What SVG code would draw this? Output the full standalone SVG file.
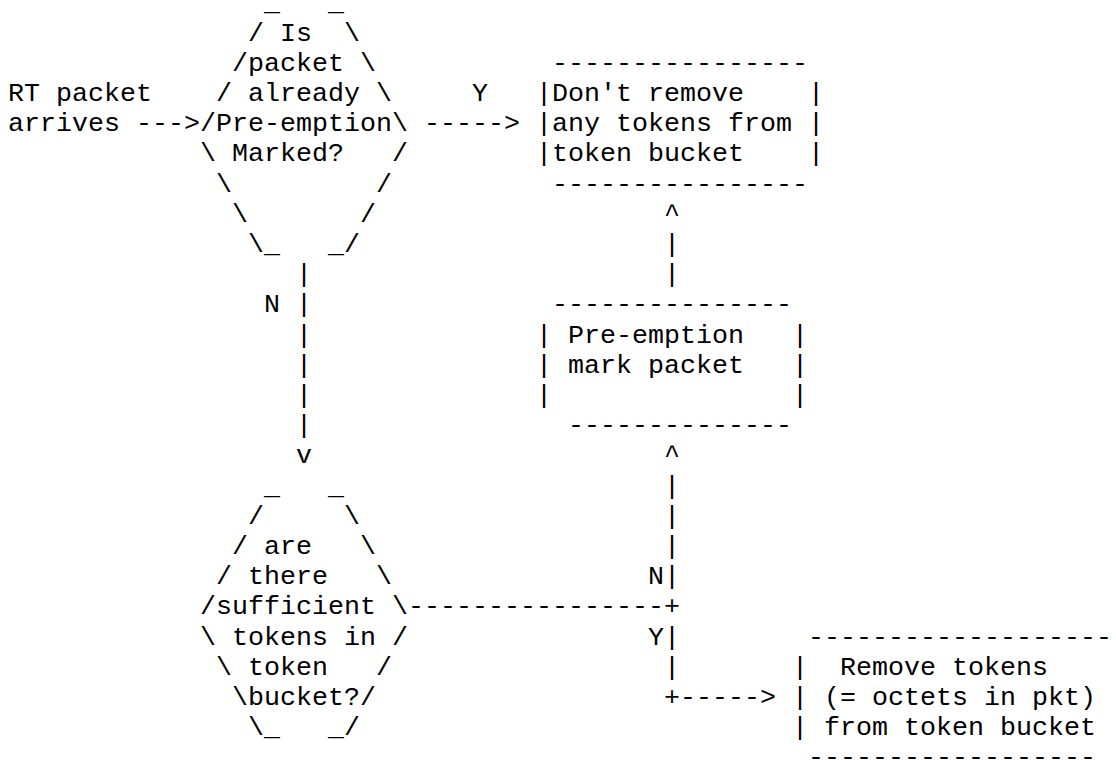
<svg xmlns="http://www.w3.org/2000/svg" width="1116" height="760" viewBox="0 0 1116 760" xml:space="preserve">
<style>
text { font-family: "Liberation Mono", "Courier New", monospace; font-size: 26.667px; fill: #000; white-space: pre; }
</style>
<rect x="0" y="0" width="1116" height="760" fill="#fff"/>

<g id="input-rt-packet">
<text x="8" y="101">RT packet</text>
<text x="8" y="131.2">arrives</text>
</g>

<g id="decision-preemption-marked">
<text x="264" y="10.4">_   _</text>
<text x="248" y="40.6">/ Is  \</text>
<text x="232" y="70.8">/packet \</text>
<text x="216" y="101">/ already \</text>
<text x="200" y="131.2">/Pre-emption\</text>
<text x="200" y="161.4">\ Marked?   /</text>
<text x="216" y="191.6">\         /</text>
<text x="232" y="221.8">\       /</text>
<text x="248" y="252">\_   _/</text>
</g>

<g id="box-dont-remove">
<text x="552" y="70.8">----------------</text>
<text x="536" y="101">|Don't remove    |</text>
<text x="536" y="131.2">|any tokens from |</text>
<text x="536" y="161.4">|token bucket    |</text>
<text x="552" y="191.6">----------------</text>
</g>

<g id="box-preemption-mark">
<text x="552" y="312.4">---------------</text>
<text x="536" y="342.6">| Pre-emption   |</text>
<text x="536" y="372.8">| mark packet   |</text>
<text x="536" y="403">|               |</text>
<text x="568" y="433.2">--------------</text>
</g>

<g id="decision-sufficient-tokens">
<text x="264" y="493.6">_   _</text>
<text x="248" y="523.8">/     \</text>
<text x="232" y="554">/ are   \</text>
<text x="216" y="584.2">/ there   \</text>
<text x="200" y="614.4">/sufficient \</text>
<text x="200" y="644.6">\ tokens in /</text>
<text x="216" y="674.8">\ token   /</text>
<text x="232" y="705">\bucket?/</text>
<text x="248" y="735.2">\_   _/</text>
</g>

<g id="box-remove-tokens">
<text x="808" y="644.6">-------------------</text>
<text x="792" y="674.8">|  Remove tokens</text>
<text x="792" y="705">| (= octets in pkt)</text>
<text x="792" y="735.2">| from token bucket</text>
<text x="808" y="765.4">------------------</text>
</g>

<g id="connectors">
<text x="136" y="131.2">---&gt;</text>
<text x="472" y="101">Y</text>
<text x="424" y="131.2">-----&gt;</text>

<text x="296" y="282.2">|</text>
<text x="264" y="312.4">N</text>
<text x="296" y="312.4">|</text>
<text x="296" y="342.6">|</text>
<text x="296" y="372.8">|</text>
<text x="296" y="403">|</text>
<text x="296" y="433.2">|</text>
<text x="296" y="463.4">v</text>

<text x="664" y="221.8">^</text>
<text x="664" y="252">|</text>
<text x="664" y="282.2">|</text>

<text x="664" y="463.4">^</text>
<text x="664" y="493.6">|</text>
<text x="664" y="523.8">|</text>
<text x="664" y="554">|</text>
<text x="648" y="584.2">N</text>
<text x="664" y="584.2">|</text>
<text x="408" y="614.4">----------------</text>
<text x="664" y="614.4">+</text>
<text x="648" y="644.6">Y</text>
<text x="664" y="644.6">|</text>
<text x="664" y="674.8">|</text>
<text x="664" y="705">+-----&gt;</text>
</g>
</svg>
